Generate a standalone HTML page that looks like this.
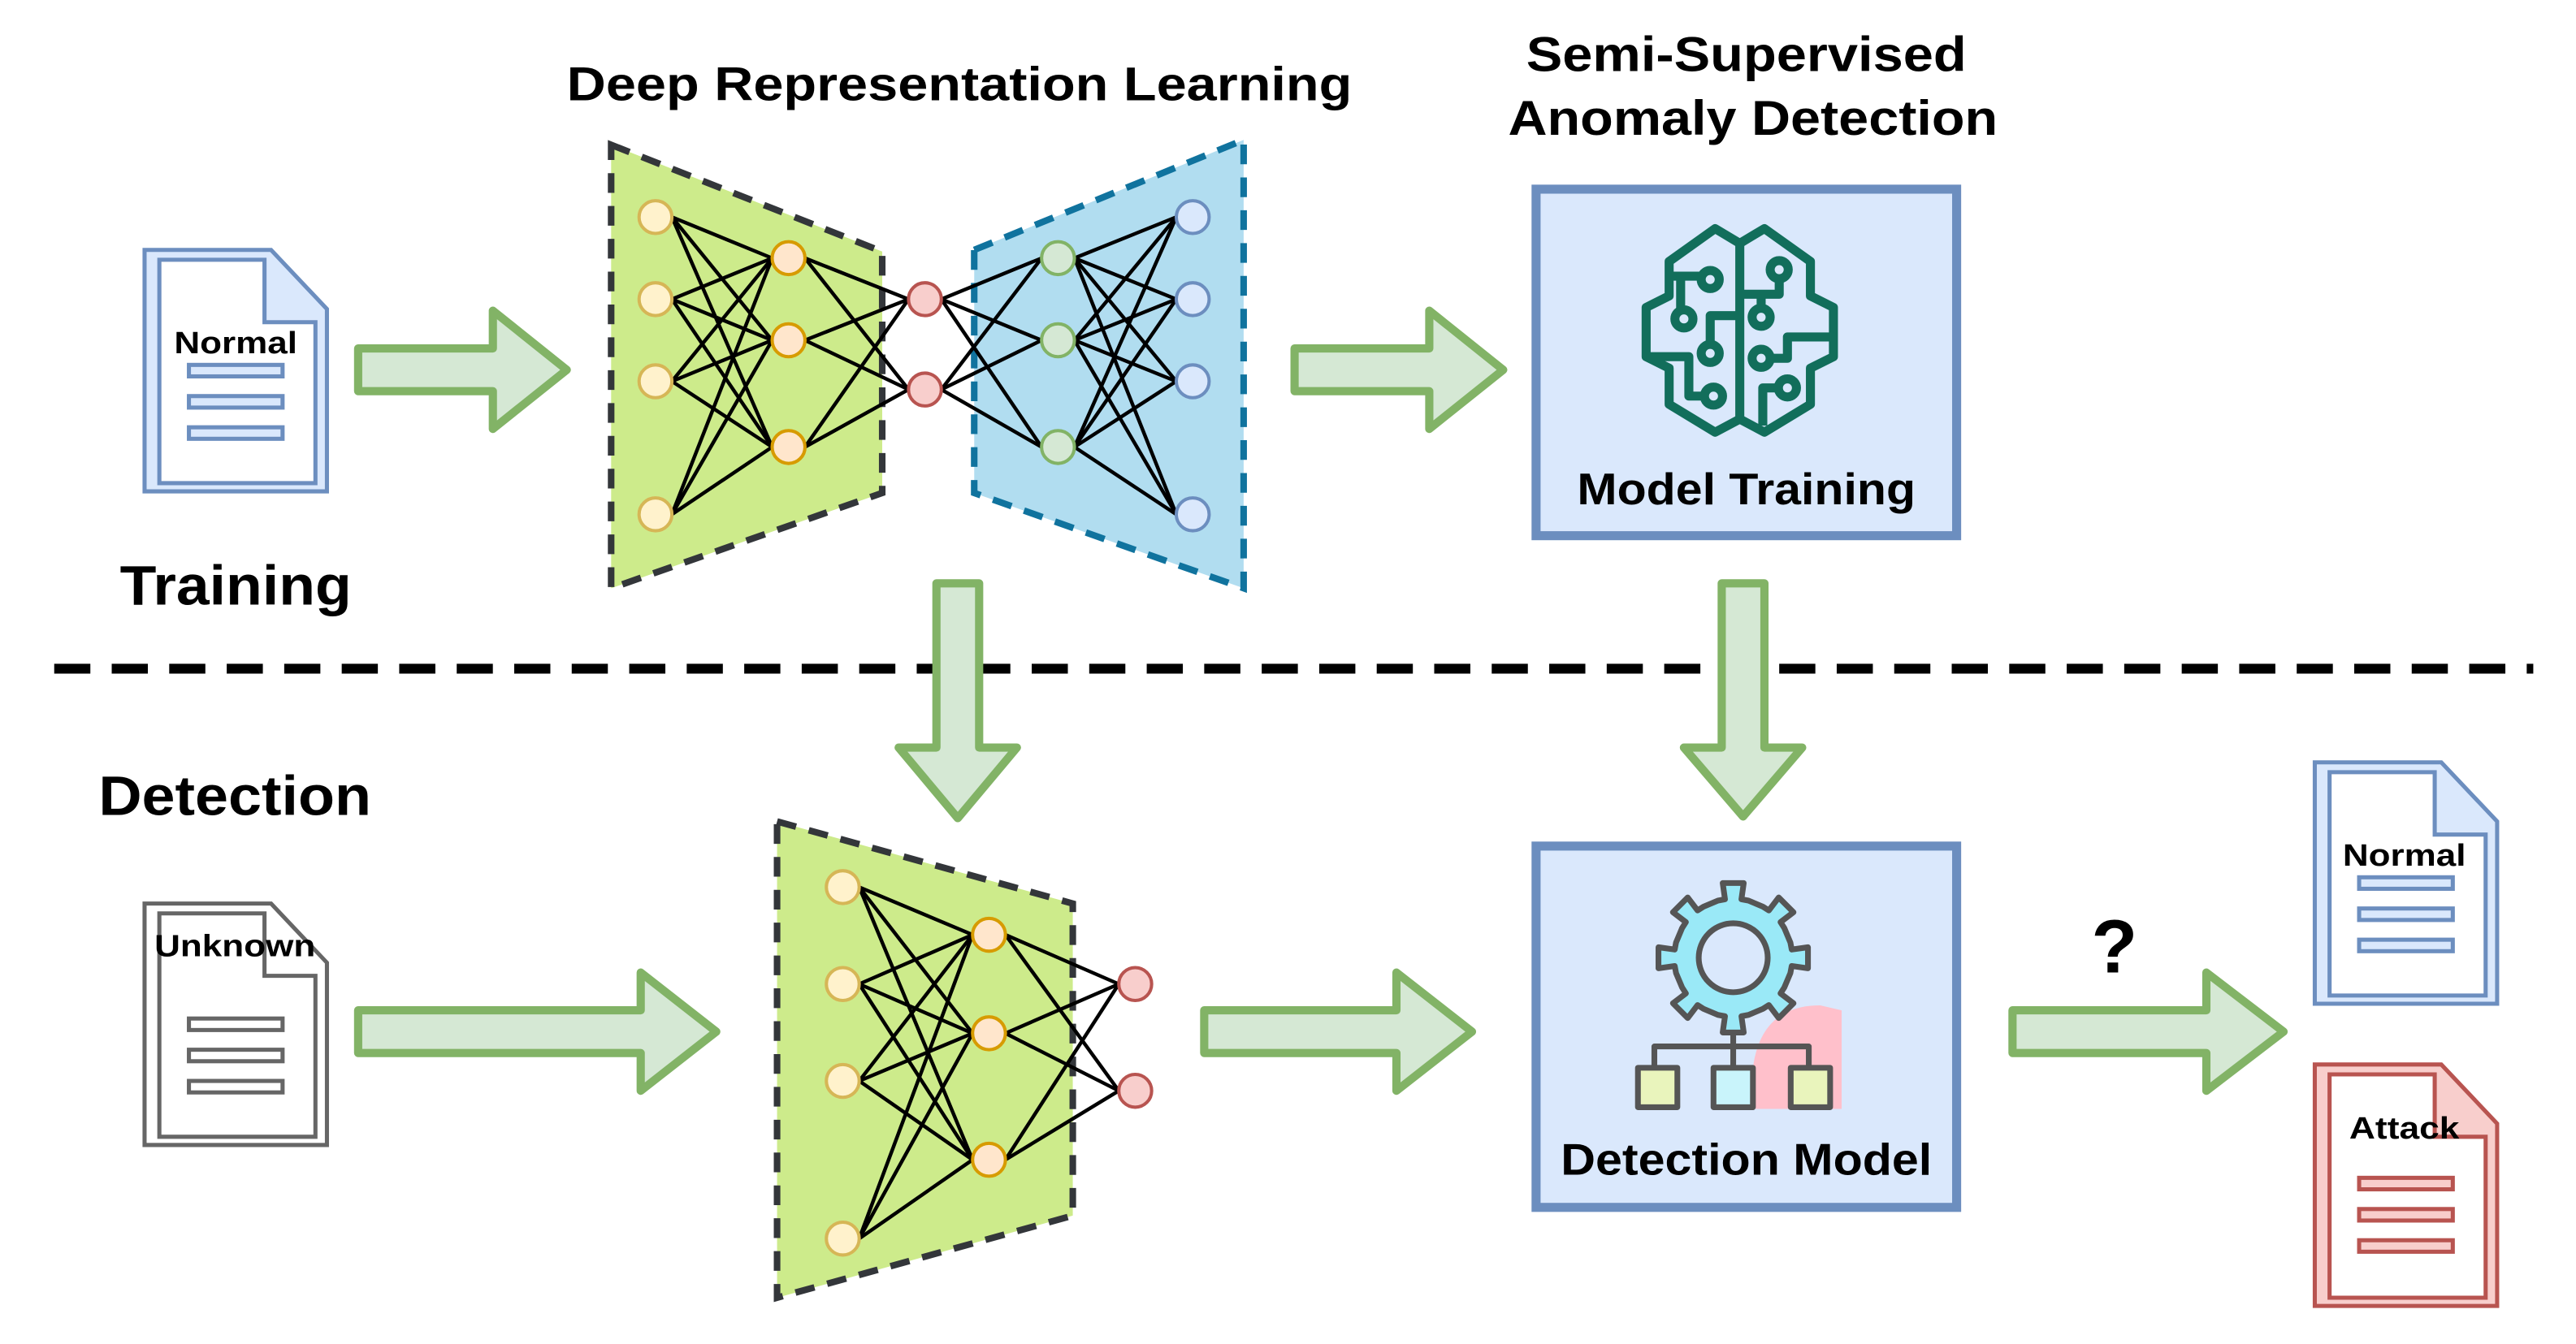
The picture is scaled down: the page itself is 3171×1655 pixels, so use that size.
<!DOCTYPE html>
<html><head><meta charset="utf-8">
<style>
html,body{margin:0;padding:0;background:#fff;}
svg{display:block;}
text{font-family:"Liberation Sans",Arial,sans-serif;font-weight:bold;fill:#000;}
</style></head>
<body>
<svg id="s" xmlns="http://www.w3.org/2000/svg" width="3171" height="1655" viewBox="0 0 1568 818">
<defs>
<g id="docb">
<path d="M0,0 L77,0 L111,36 L111,147 L0,147Z" fill="#dae8fc" stroke="#6c8ebf" stroke-width="2.5"/>
<path d="M9,6 L73,6 L73,44 L104,44 L104,142 L9,142Z" fill="#fff" stroke="#6c8ebf" stroke-width="2.5"/>
</g>
</defs>

<!-- titles -->
<text x="345" y="61" font-size="29" textLength="478" lengthAdjust="spacingAndGlyphs">Deep Representation Learning</text>
<text x="929" y="43" font-size="30" textLength="268" lengthAdjust="spacingAndGlyphs">Semi-Supervised</text>
<text x="918" y="82" font-size="30" textLength="298" lengthAdjust="spacingAndGlyphs">Anomaly Detection</text>
<text x="73" y="368" font-size="34" textLength="141" lengthAdjust="spacingAndGlyphs">Training</text>
<text x="60" y="496" font-size="34" textLength="166" lengthAdjust="spacingAndGlyphs">Detection</text>

<!-- dashed separator -->
<line x1="33" y1="407" x2="1542" y2="407" stroke="#000" stroke-width="6" stroke-dasharray="22,13"/>

<!-- Normal doc left -->
<g transform="translate(88,152)">
<use href="#docb"/>
<text x="18" y="63" font-size="19" textLength="75" lengthAdjust="spacingAndGlyphs">Normal</text>
<rect x="27" y="70" width="57" height="7" fill="#dae8fc" stroke="#6c8ebf" stroke-width="2.5"/>
<rect x="27" y="89" width="57" height="7" fill="#dae8fc" stroke="#6c8ebf" stroke-width="2.5"/>
<rect x="27" y="108" width="57" height="7" fill="#dae8fc" stroke="#6c8ebf" stroke-width="2.5"/>
</g>

<!-- Unknown doc -->
<g transform="translate(88,550)">
<path d="M0,0 L77,0 L111,36 L111,147 L0,147Z" fill="#fff" stroke="#666" stroke-width="2.5"/>
<path d="M9,6 L73,6 L73,44 L104,44 L104,142 L9,142Z" fill="#fff" stroke="#666" stroke-width="2.5"/>
<text x="6" y="32" font-size="19" textLength="98" lengthAdjust="spacingAndGlyphs">Unknown</text>
<rect x="27" y="70" width="57" height="7" fill="#fff" stroke="#666" stroke-width="2.5"/>
<rect x="27" y="89" width="57" height="7" fill="#fff" stroke="#666" stroke-width="2.5"/>
<rect x="27" y="108" width="57" height="7" fill="#fff" stroke="#666" stroke-width="2.5"/>
</g>

<!-- Normal doc right -->
<g transform="translate(1409,464)">
<use href="#docb"/>
<text x="17" y="63" font-size="19" textLength="75" lengthAdjust="spacingAndGlyphs">Normal</text>
<rect x="27" y="70" width="57" height="7" fill="#dae8fc" stroke="#6c8ebf" stroke-width="2.5"/>
<rect x="27" y="89" width="57" height="7" fill="#dae8fc" stroke="#6c8ebf" stroke-width="2.5"/>
<rect x="27" y="108" width="57" height="7" fill="#dae8fc" stroke="#6c8ebf" stroke-width="2.5"/>
</g>

<!-- Attack doc -->
<g transform="translate(1409,648)">
<path d="M0,0 L77,0 L111,36 L111,147 L0,147Z" fill="#f8cecc" stroke="#b85450" stroke-width="2.5"/>
<path d="M9,6 L73,6 L73,44 L104,44 L104,142 L9,142Z" fill="#fff" stroke="#b85450" stroke-width="2.5"/>
<text x="21" y="45" font-size="19" textLength="67" lengthAdjust="spacingAndGlyphs">Attack</text>
<rect x="27" y="69" width="57" height="7" fill="#f8cecc" stroke="#b85450" stroke-width="2.5"/>
<rect x="27" y="88" width="57" height="7" fill="#f8cecc" stroke="#b85450" stroke-width="2.5"/>
<rect x="27" y="107" width="57" height="7" fill="#f8cecc" stroke="#b85450" stroke-width="2.5"/>
</g>

<!-- trapezoids -->
<path d="M372,88 L537,153 L537,300 L372,358Z" fill="#cdeb8b" stroke="#33363a" stroke-width="4" stroke-dasharray="12,8"/>
<path d="M593,152 L757,85 L757,358 L593,300Z" fill="#b1ddf0" stroke="#10739e" stroke-width="4" stroke-dasharray="12,8"/>
<path d="M473,500 L653,550 L653,740 L473,790Z" fill="#cdeb8b" stroke="#33363a" stroke-width="4" stroke-dasharray="12,8"/>

<g id="net"></g>

<!-- arrows -->
<g fill="#d5e8d4" stroke="#82b366" stroke-width="5" stroke-linejoin="round">
<path d="M218,212 L300,212 L300,189 L345,225 L300,261 L300,238 L218,238Z"/>
<path d="M788,212 L870,212 L870,189 L915,225 L870,261 L870,238 L788,238Z"/>
<path d="M218,615 L390,615 L390,592 L436,628 L390,664 L390,641 L218,641Z"/>
<path d="M733,615 L850,615 L850,592 L896,628 L850,664 L850,641 L733,641Z"/>
<path d="M1225,615 L1343,615 L1343,592 L1390,628 L1343,664 L1343,641 L1225,641Z"/>
<path d="M570,355 L596,355 L596,455 L619,455 L583,498 L547,455 L570,455Z"/>
<path d="M1048,355 L1074,355 L1074,455 L1097,455 L1061,497 L1025,455 L1048,455Z"/>
</g>

<text x="1287" y="592" font-size="46" text-anchor="middle">?</text>

<!-- Model Training box -->
<rect x="935" y="115" width="256" height="211" fill="#dae8fc" stroke="#6c8ebf" stroke-width="5.5"/>
<text x="960" y="307" font-size="27" textLength="206" lengthAdjust="spacingAndGlyphs">Model Training</text>
<g transform="translate(999,139)" fill="none" stroke="#126e5b" stroke-width="5.5" stroke-linejoin="round">
<path d="M60,9 L45,0 L17,20 L17,41 L3,48 L3,78 L17,85 L17,107 L45,124 L60,116 L75,124 L103,107 L103,85 L117,78 L117,48 L103,41 L103,20 L75,0Z"/>
<line x1="60" y1="9" x2="60" y2="116"/>
<path d="M17,29 L36,29"/><path d="M24,29 L24,49"/>
<path d="M60,53 L42,53 L42,70"/>
<path d="M3,78 L29,78 L29,102 L38,102"/>
<path d="M60,40 L84,40 L84,31"/><path d="M73,40 L73,48"/>
<path d="M117,66 L89,66 L89,79 L79,79"/>
<path d="M74,120 L74,97 L83,97"/>
<circle cx="42" cy="31" r="5.5"/><circle cx="26" cy="55" r="5.5"/><circle cx="42" cy="76" r="5.5"/><circle cx="44" cy="102" r="5.5"/>
<circle cx="84" cy="25" r="5.5"/><circle cx="73" cy="54" r="5.5"/><circle cx="73" cy="79" r="5.5"/><circle cx="89" cy="97" r="5.5"/>
</g>

<!-- Detection Model box -->
<rect x="935" y="515" width="256" height="220" fill="#dae8fc" stroke="#6c8ebf" stroke-width="5.5"/>
<text x="950" y="715" font-size="27" textLength="226" lengthAdjust="spacingAndGlyphs">Detection Model</text>
<path d="M1067,675 L1067,650 Q1072,612 1108,612 L1121,615 L1121,675Z" fill="#ffc0cb"/>
<g stroke="#555" stroke-width="3.5" stroke-linejoin="round">
<g id="gear" fill="#9ae9f7"></g>
<path d="M1055,629 L1055,663 M1007,663 L1007,637 L1101,637 L1101,663" fill="none"/>
<rect x="997" y="650" width="24" height="24" fill="#e9f4bc"/>
<rect x="1043" y="650" width="24" height="24" fill="#c9f4fb"/>
<rect x="1090" y="650" width="24" height="24" fill="#e9f4bc"/>
</g>
</svg>
<script>
var NS="http://www.w3.org/2000/svg";
function el(p,n,a){var e=document.createElementNS(NS,n);for(var k in a)e.setAttribute(k,a[k]);p.appendChild(e);return e;}
var net=document.getElementById('net');
var L1={x:399,y:[132,182,232,313],f:"#fff2cc",s:"#d6b656"};
var L2={x:480,y:[157,207,272],f:"#ffe6cc",s:"#d79b00"};
var L3={x:563,y:[182,237],f:"#f8cecc",s:"#b85450"};
var L4={x:644,y:[157,207,272],f:"#d5e8d4",s:"#82b366"};
var L5={x:726,y:[132,182,232,313],f:"#dae8fc",s:"#6c8ebf"};
var B1={x:513,y:[540,599,658,754],f:"#fff2cc",s:"#d6b656"};
var B2={x:602,y:[569,629,706],f:"#ffe6cc",s:"#d79b00"};
var B3={x:691,y:[599,664],f:"#f8cecc",s:"#b85450"};
function conn(a,b){a.y.forEach(function(y1){b.y.forEach(function(y2){el(net,'line',{x1:a.x+10,y1:y1,x2:b.x-10,y2:y2,stroke:'#000','stroke-width':2.2});});});}
conn(L1,L2);conn(L2,L3);conn(L3,L4);conn(L4,L5);conn(B1,B2);conn(B2,B3);
[L1,L2,L3,L4,L5,B1,B2,B3].forEach(function(l){l.y.forEach(function(y){el(net,'circle',{cx:l.x,cy:y,r:10,fill:l.f,stroke:l.s,'stroke-width':2});});});
var g=document.getElementById('gear');
var cx=1055,cy=583,d="";
var Ro=46,Rb=36,hw=0.14;
for(var i=0;i<8;i++){var a=i*Math.PI/4;
 var pts=[[Rb,-0.26],[Rb,-hw],[Ro,-hw],[Ro,hw],[Rb,hw],[Rb,0.26]];
 pts.forEach(function(p,j){var ang=a+p[1];var r=p[0];var px=cx+r*Math.cos(ang),py=cy+r*Math.sin(ang);d+=(i==0&&j==0?"M":"L")+px.toFixed(1)+","+py.toFixed(1);});
}
d+="Z";
el(g,'path',{d:d});
el(g,'circle',{cx:cx,cy:cy,r:21,fill:'#dae8fc'});
</script>
</body></html>
